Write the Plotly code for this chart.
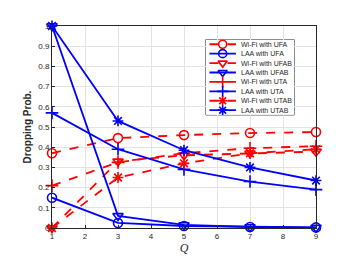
import plotly.graph_objects as go

Q = [1, 3, 5, 7, 9]
wifi_ufa = [0.37, 0.445, 0.46, 0.47, 0.475]
laa_ufa = [0.15, 0.025, 0.01, 0.005, 0.003]
wifi_ufab = [0.0, 0.33, 0.36, 0.37, 0.378]
laa_ufab = [1.0, 0.06, 0.015, 0.005, 0.002]
wifi_uta = [0.21, 0.325, 0.37, 0.395, 0.405]
laa_uta = [0.57, 0.39, 0.29, 0.23, 0.19]
wifi_utab = [0.0, 0.25, 0.32, 0.37, 0.39]
laa_utab = [1.0, 0.53, 0.385, 0.30, 0.235]

names = ["Wi-Fi with UFA", "LAA with UFA", "Wi-Fi with UFAB", "LAA with UFAB",
         "Wi-Fi with UTA", "LAA with UTA", "Wi-Fi with UTAB", "LAA with UTAB"]
series = [wifi_ufa, laa_ufa, wifi_ufab, laa_ufab, wifi_uta, laa_uta, wifi_utab, laa_utab]
symbols = ["circle-open", "circle-open", "triangle-down-open", "triangle-down-open",
           "cross-thin-open", "cross-thin-open", "asterisk-open", "asterisk-open"]

TXT = "#262626"
fig = go.Figure()
n_items = len(names)
for i, (n, s, sym) in enumerate(zip(names, series, symbols)):
    red = i % 2 == 0
    col = "#ff0000" if red else "#0000ff"
    line = dict(color=col, width=1.8, dash="dash" if red else "solid")
    marker = dict(symbol=sym, size=9, color=col, line=dict(color=col, width=1.6))
    fig.add_trace(go.Scatter(x=Q, y=s, name=n, mode="lines+markers", cliponaxis=False,
                             line=line, marker=marker, showlegend=False))
    # custom compact legend entry (drawn in legend axes)
    yy = n_items - 0.5 - i
    fig.add_trace(go.Scatter(x=[0.04, 0.34], y=[yy, yy], mode="lines", line=line,
                             xaxis="x2", yaxis="y2", showlegend=False, hoverinfo="skip"))
    fig.add_trace(go.Scatter(x=[0.19], y=[yy], mode="markers",
                             marker=dict(symbol=sym, size=8, color=col, line=dict(color=col, width=1.6)),
                             xaxis="x2", yaxis="y2", showlegend=False, hoverinfo="skip"))
    fig.add_annotation(x=0.37, y=yy, xref="x2", yref="y2", text=n, showarrow=False,
                       xanchor="left", yanchor="middle",
                       font=dict(family="Liberation Sans, Arial", size=7, color=TXT))

axis_common = dict(showgrid=True, gridcolor="#e3e3e3", gridwidth=1, showline=True,
                   linecolor=TXT, linewidth=1, mirror=True, ticks="inside",
                   ticklen=3, tickcolor=TXT, zeroline=False,
                   tickfont=dict(family="Liberation Sans, Arial", size=8, color=TXT))

lx0, lx1, ly0, ly1 = 0.583, 0.917, 0.56, 0.933
fig.update_layout(
    width=341, height=256,
    margin=dict(l=44, r=33, t=18, b=29),
    paper_bgcolor="white", plot_bgcolor="white",
    showlegend=False,
    xaxis=dict(range=[1, 9], tickvals=[1, 2, 3, 4, 5, 6, 7, 8, 9],
               title=dict(text="<i>Q</i>", font=dict(family="Liberation Serif, Times New Roman", size=12, color=TXT), standoff=3),
               **axis_common),
    yaxis=dict(range=[0, 1], tickvals=[0, 0.1, 0.2, 0.3, 0.4, 0.5, 0.6, 0.7, 0.8, 0.9, 1],
               ticktext=["0", "0.1", "0.2", "0.3", "0.4", "0.5", "0.6", "0.7", "0.8", "0.9", "1"],
               title=dict(text="<b>Dropping Prob.</b>", font=dict(family="Liberation Sans, Arial", size=10, color=TXT), standoff=4),
               **axis_common),
    xaxis2=dict(domain=[lx0, lx1], range=[0, 1], anchor="y2", visible=False, fixedrange=True),
    yaxis2=dict(domain=[ly0, ly1], range=[0, n_items], anchor="x2", visible=False, fixedrange=True),
    shapes=[dict(type="rect", xref="paper", yref="paper", x0=lx0, x1=lx1, y0=ly0, y1=ly1,
                 fillcolor="white", line=dict(color=TXT, width=1), layer="between")],
)
fig.write_html("out.html")
